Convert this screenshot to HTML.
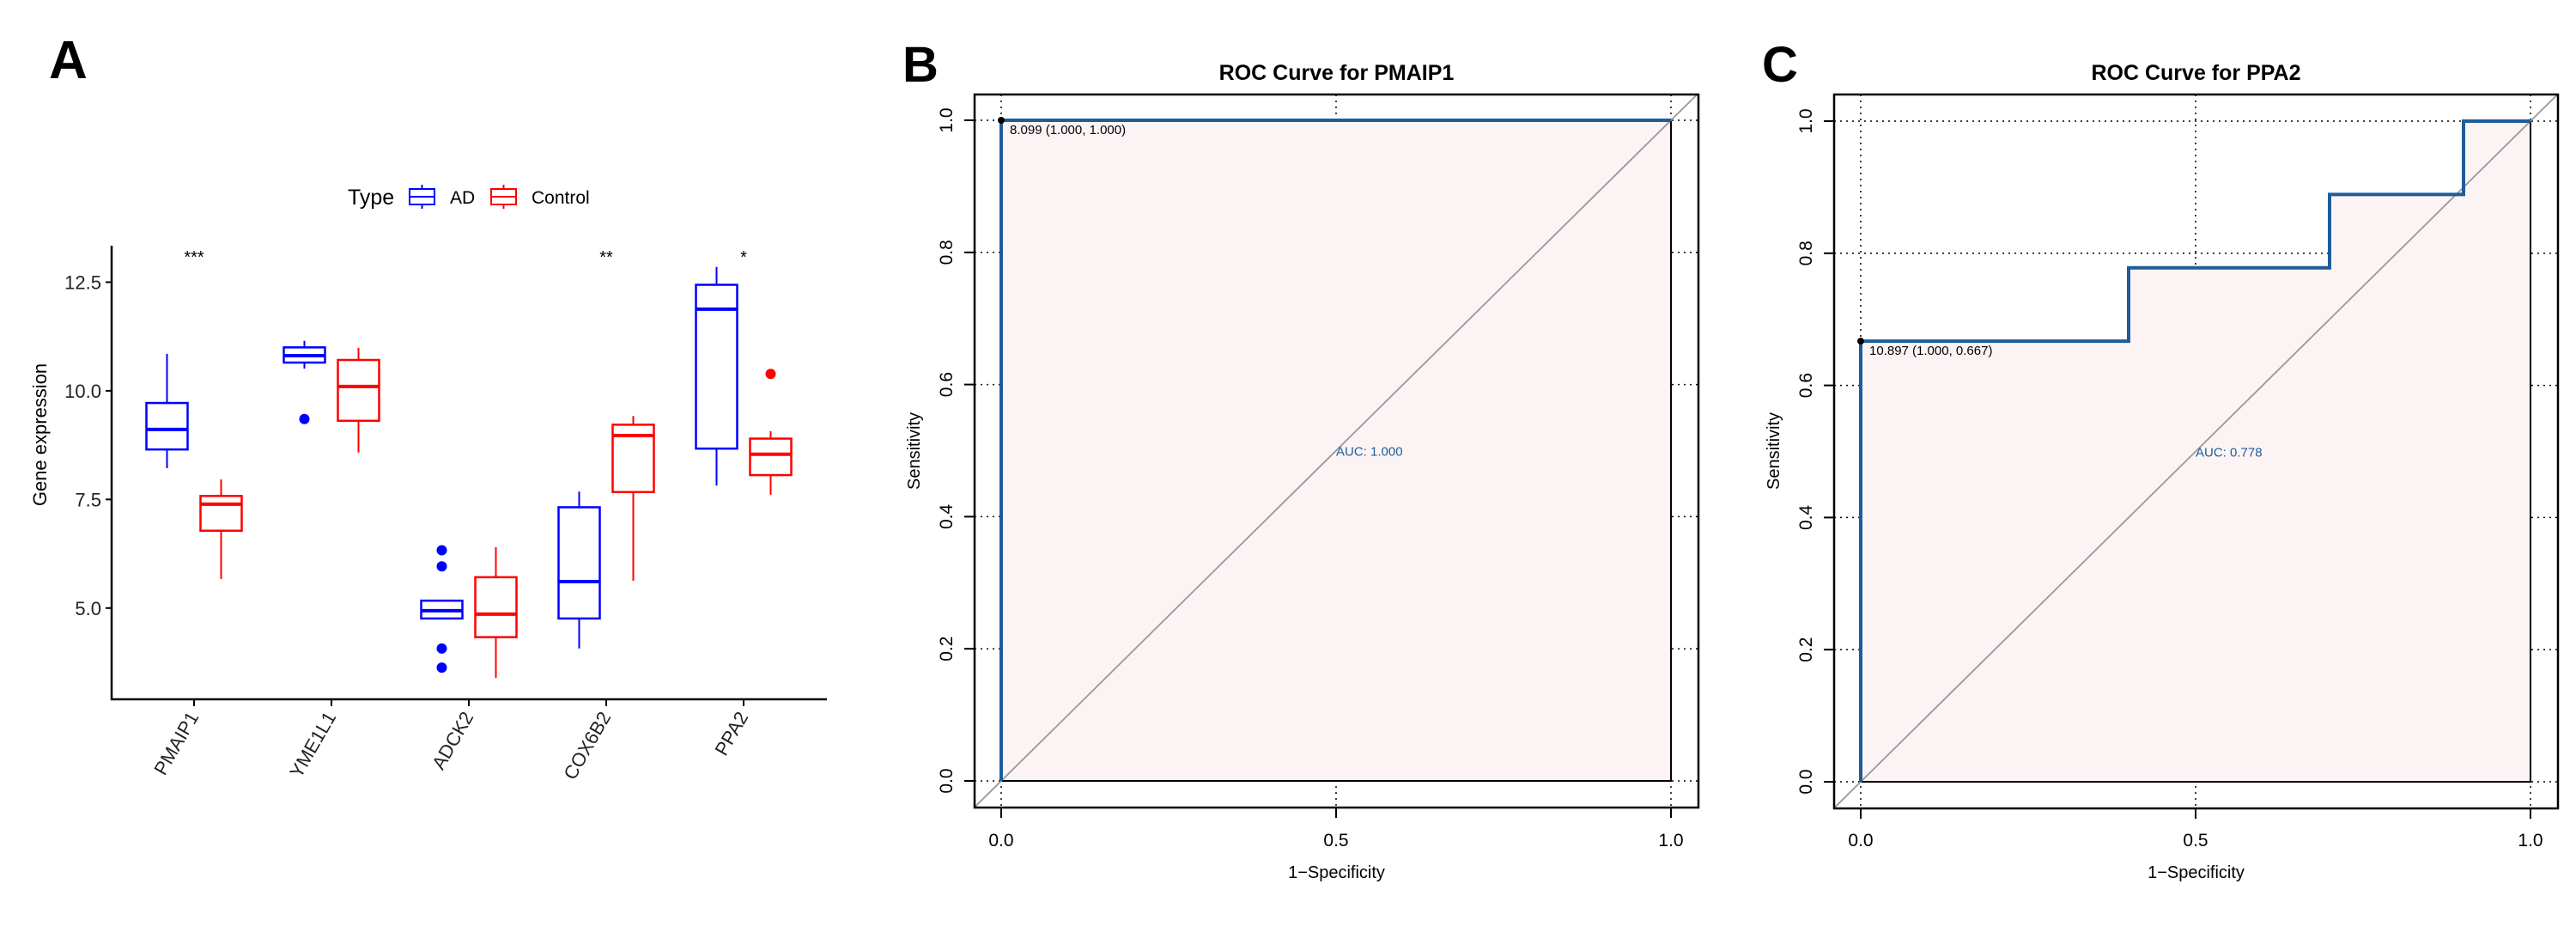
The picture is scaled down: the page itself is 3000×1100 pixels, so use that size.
<!DOCTYPE html>
<html><head><meta charset="utf-8"><style>
html,body{margin:0;padding:0;background:#fff}
svg{display:block;font-family:"Liberation Sans",Arial,sans-serif}
</style></head><body>
<svg id="fig" width="3000" height="1100" viewBox="0 0 3000 1100" xmlns="http://www.w3.org/2000/svg">
<rect width="3000" height="1100" fill="#fff"/>
<g id="pA"></g>
<g id="pB"></g>
<g id="pC"></g>
</svg>
<script>
// ---------- Panel A data ----------
const genes = ["PMAIP1","YME1L1","ADCK2","COX6B2","PPA2"];
const signif = ["***","","","**","*"];
const yTicksA = [5.0,7.5,10.0,12.5];
// [low whisker, Q1, median, Q3, high whisker]
const adStats = [[8.22,8.65,9.11,9.72,10.85],[10.51,10.65,10.81,11.0,11.15],[4.76,4.76,4.94,5.17,5.17],[4.07,4.76,5.61,7.32,7.68],[7.82,8.67,11.88,12.44,12.85]];
const ctrlStats = [[5.67,6.78,7.39,7.58,7.96],[8.58,9.31,10.1,10.71,10.99],[3.39,4.33,4.86,5.71,6.4],[5.63,7.67,8.97,9.22,9.42],[7.61,8.06,8.54,8.9,9.07]];
const adOutliers = [[],[9.35],[6.33,5.96,4.07,3.63],[],[]];
const ctrlOutliers = [[],[],[],[],[10.39]];

// ---------- ROC data ----------
const rocB_fpr = [0,0,1];
const rocB_tpr = [0,1,1];
const rocC_fpr = [0,0,0.4,0.4,0.7,0.7,0.9,0.9,1];
const rocC_tpr = [0,0.667,0.667,0.778,0.778,0.889,0.889,1,1];
const rocTicks = [0,0.2,0.4,0.6,0.8,1.0];
const rocXTicks = [0,0.5,1.0];

const NS="http://www.w3.org/2000/svg";
function mk(parent,tag,attrs,text){const e=document.createElementNS(NS,tag);for(const k in attrs)e.setAttribute(k,attrs[k]);if(text!==undefined)e.textContent=text;parent.appendChild(e);return e;}

// ---------- Panel A ----------
(function(){
const g=document.getElementById('pA');
const x0=130,x1=963,yTop=286,yBot=814;
const vMin=2.9,vMax=13.34;
const y=v=>yBot-(v-vMin)/(vMax-vMin)*(yBot-yTop);
const cx=i=>226+i*160;
let t=mk(g,'text',{x:57,y:91,'font-size':62,'font-weight':'bold'},'A');


// legend
t=mk(g,'text',{x:405,y:238,'font-size':25},'Type');


[['AD','#0000ff',477,524],['Control','#ff0000',572,619]].forEach(([lab,col,bx,tx])=>{
  const lg=mk(g,'g',{});
  
  
  mk(lg,'line',{x1:bx+14.5,x2:bx+14.5,y1:215,y2:243,stroke:col,'stroke-width':2});
  mk(lg,'rect',{x:bx,y:220,width:29,height:18,fill:'#fff',stroke:col,'stroke-width':2});
  mk(lg,'line',{x1:bx,x2:bx+29,y1:229,y2:229,stroke:col,'stroke-width':2});
  mk(lg,'text',{x:tx,y:237,'font-size':21},lab);
});
// axes
const ax=mk(g,'path',{d:`M${x0},${yTop} V${yBot} H${x1}`,fill:'none',stroke:'#000','stroke-width':2.5});


yTicksA.forEach(v=>{
  mk(g,'line',{x1:x0-7,x2:x0,y1:y(v),y2:y(v),stroke:'#000','stroke-width':2});
  const tl=mk(g,'text',{x:x0-12,y:y(v)+8,'font-size':22,'text-anchor':'end',fill:'#222'},v.toFixed(1));
  
  
});
t=mk(g,'text',{x:0,y:0,'font-size':22,'text-anchor':'middle',transform:'translate(54,506) rotate(-90)'},'Gene expression');


genes.forEach((gn,i)=>{
  const c=cx(i);
  mk(g,'line',{x1:c,x2:c,y1:yBot,y2:yBot+8,stroke:'#000','stroke-width':2});
  const tl=mk(g,'text',{x:0,y:0,'font-size':22,'text-anchor':'end',fill:'#222',transform:`translate(${c+6},${yBot+20}) rotate(-60)`},gn);
  
  
  if(signif[i]){
    const s=mk(g,'text',{x:c,y:306,'font-size':20,'text-anchor':'middle'},signif[i]);
    
    
  }
  [[adStats[i],adOutliers[i],'#0000ff',c-31.5,'ad'],[ctrlStats[i],ctrlOutliers[i],'#ff0000',c+31.5,'control']].forEach(([st,out,col,bc,nm])=>{
    const bg=mk(g,'g',{});
    
    
    const w=48;
    mk(bg,'line',{x1:bc,x2:bc,y1:y(st[0]),y2:y(st[1]),stroke:col,'stroke-width':2});
    mk(bg,'line',{x1:bc,x2:bc,y1:y(st[3]),y2:y(st[4]),stroke:col,'stroke-width':2});
    mk(bg,'rect',{x:bc-w/2,y:y(st[3]),width:w,height:Math.max(0.5,y(st[1])-y(st[3])),fill:'#fff',stroke:col,'stroke-width':2.5});
    mk(bg,'line',{x1:bc-w/2,x2:bc+w/2,y1:y(st[2]),y2:y(st[2]),stroke:col,'stroke-width':4});
    out.forEach(o=>{
      const p=mk(bg,'circle',{cx:bc,cy:y(o),r:6,fill:col});
      
      
    });
  });
});
})();

// ---------- ROC panels ----------
function roc(id,opt){
const g=document.getElementById(id);
const {bx0,bx1,by0,by1,dx0,dx1,dy0,dy1,fpr,tpr,letter,title,thrText,thrIdx,auc}=opt;
const X=v=>dx0+v*(dx1-dx0);
const Y=v=>dy0-v*(dy0-dy1);
let t=mk(g,'text',{x:bx0-84,y:95,'font-size':58,'font-weight':'bold'},letter);


t=mk(g,'text',{x:(bx0+bx1)/2,y:93,'font-size':25,'font-weight':'bold','text-anchor':'middle'},title);


// grid
const grid=mk(g,'g',{stroke:'#000','stroke-width':1.5,'stroke-dasharray':'2 5'});


rocXTicks.forEach(v=>mk(grid,'line',{x1:X(v),x2:X(v),y1:by0,y2:by1}));
rocTicks.forEach(v=>mk(grid,'line',{x1:bx0,x2:bx1,y1:Y(v),y2:Y(v)}));
// fill
let pts=fpr.map((f,i)=>X(f)+','+Y(tpr[i])).join(' ')+' '+X(1)+','+Y(0);
const fl=mk(g,'polygon',{points:pts,fill:'#fcf4f4',stroke:'#000','stroke-width':2});


// diagonal
const cp='clip'+id;
const cl=mk(g,'clipPath',{id:cp});mk(cl,'rect',{x:bx0,y:by0,width:bx1-bx0,height:by1-by0});
const dg=mk(g,'line',{x1:X(-0.2),y1:Y(-0.2),x2:X(1.2),y2:Y(1.2),stroke:'#999','stroke-width':1.8,'clip-path':`url(#${cp})`});


// roc line
const rl=mk(g,'polyline',{points:fpr.map((f,i)=>X(f)+','+Y(tpr[i])).join(' '),fill:'none',stroke:'#1f5c99','stroke-width':4});


// box
const bxr=mk(g,'rect',{x:bx0,y:by0,width:bx1-bx0,height:by1-by0,fill:'none',stroke:'#000','stroke-width':2.5});


// threshold
const tp=mk(g,'circle',{cx:X(fpr[thrIdx]),cy:Y(tpr[thrIdx]),r:4,fill:'#000'});


t=mk(g,'text',{x:X(fpr[thrIdx])+10,y:Y(tpr[thrIdx])+16,'font-size':15},thrText);


t=mk(g,'text',{x:X(0.5),y:Y(0.5)+6,'font-size':15,fill:'#1f5c99'},auc);


// ticks
rocTicks.forEach(v=>{
  mk(g,'line',{x1:bx0-12,x2:bx0,y1:Y(v),y2:Y(v),stroke:'#000','stroke-width':2});
  const tl=mk(g,'text',{x:0,y:0,'font-size':21,'text-anchor':'middle',transform:`translate(${bx0-26},${Y(v)}) rotate(-90)`},v.toFixed(1));
  
  
});
rocXTicks.forEach(v=>{
  mk(g,'line',{x1:X(v),x2:X(v),y1:by1,y2:by1+12,stroke:'#000','stroke-width':2});
  const tl=mk(g,'text',{x:X(v),y:985,'font-size':21,'text-anchor':'middle'},v.toFixed(1));
  
  
});
t=mk(g,'text',{x:(bx0+bx1)/2,y:1022,'font-size':20,'text-anchor':'middle'},'1\u2212Specificity');


t=mk(g,'text',{x:0,y:0,'font-size':20,'text-anchor':'middle',transform:`translate(${bx0-64},525) rotate(-90)`},'Sensitivity');


}
roc('pB',{bx0:1135,bx1:1978,by0:110,by1:940,dx0:1166,dx1:1946,dy0:909,dy1:140,fpr:rocB_fpr,tpr:rocB_tpr,letter:'B',title:'ROC Curve for PMAIP1',thrText:'8.099 (1.000, 1.000)',thrIdx:1,auc:'AUC: 1.000'});
roc('pC',{bx0:2136,bx1:2979,by0:110,by1:941,dx0:2167,dx1:2947,dy0:910,dy1:141,fpr:rocC_fpr,tpr:rocC_tpr,letter:'C',title:'ROC Curve for PPA2',thrText:'10.897 (1.000, 0.667)',thrIdx:1,auc:'AUC: 0.778'});
</script>
</body></html>
